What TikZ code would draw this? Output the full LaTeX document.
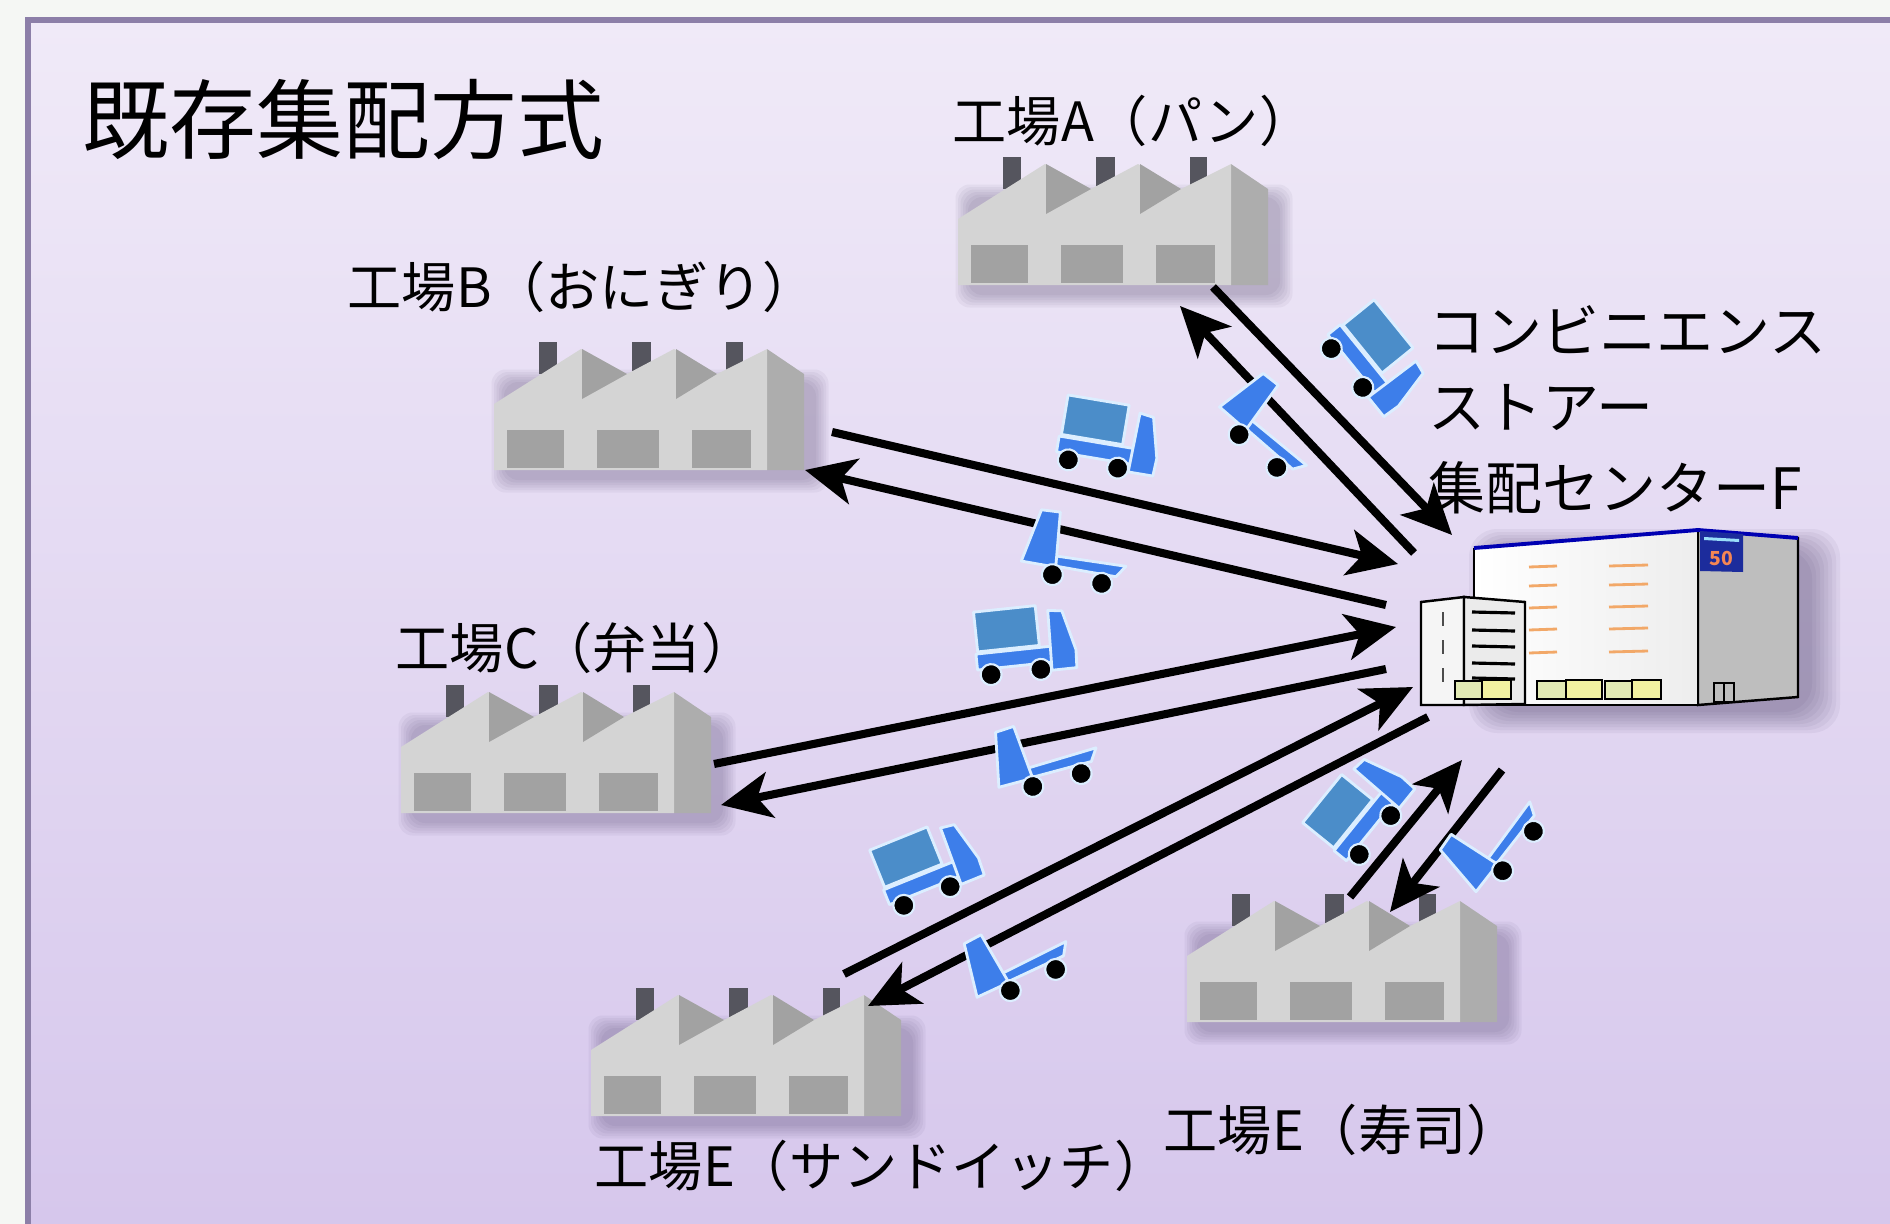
\documentclass[tikz,border=0pt]{standalone}
\usepackage{fontspec}
\setmainfont{Noto Sans CJK JP}
\usetikzlibrary{arrows.meta}

\definecolor{pagebg}{HTML}{F5F7F4}
\definecolor{frametop}{HTML}{F0EAF8}
\definecolor{framebot}{HTML}{D6C7EC}
\definecolor{frameline}{HTML}{8C7FA8}
\definecolor{factlight}{HTML}{D4D4D4}
\definecolor{factdark}{HTML}{A2A2A2}
\definecolor{factside}{HTML}{ADADAD}
\definecolor{chimney}{HTML}{55555E}
\definecolor{shadowc}{HTML}{3A2C58}
\definecolor{truckblue}{HTML}{3D7EEA}
\definecolor{cargoblue}{HTML}{4B8DC9}
\definecolor{glow}{HTML}{DCEEFF}
\definecolor{signblue}{HTML}{1C2C9C}
\definecolor{winorange}{HTML}{F2A868}
\definecolor{dockyellow}{HTML}{F2F2A0}
\definecolor{dockgreen}{HTML}{E2EAB4}
\definecolor{sidegray}{HTML}{BEBEBE}

\tikzset{
  flowarrow/.style={line width=2.3pt, -{Stealth[length=5mm,width=4.6mm,inset=1.3mm]}},
  plabel/.style={anchor=west, inner sep=0pt, text height=0.88em, text depth=0.12em,
                 font=\fontsize{15.4pt}{18pt}\selectfont},
  cvslabel/.style={plabel, font=\fontsize{16.2pt}{19pt}\selectfont},
  truckpart/.style={draw=glow, line width=0.8pt, line join=round},
  wheel/.style={draw=glow, line width=0.6pt, fill=black},
  % sawtooth factory, origin at the top-left corner
  factory/.pic={
    \foreach \k in {0,...,5}
      \fill[shadowc, opacity=0.05, rounded corners=4pt]
        ({10-\k*2.5},{40-\k*2.5}) rectangle ({322+\k*2.5},{138+\k*2.5});
    \fill[chimney] (45,0) rectangle (63,32);
    \fill[chimney] (138,0) rectangle (157,30);
    \fill[chimney] (232,0) rectangle (249,30);
    \fill[factside] (273,7) -- (310,32) -- (310,128) -- (273,128) -- cycle;
    \fill[factlight] (0,128) -- (0,62) -- (87,7) -- (133,32) -- (180,7) -- (223,32)
                     -- (273,7) -- (273,128) -- cycle;
    \fill[factdark] (88,7) -- (88,57) -- (133,32) -- cycle;
    \fill[factdark] (182,7) -- (182,57) -- (223,32) -- cycle;
    \fill[factdark] (13,88) rectangle (70,126);
    \fill[factdark] (103,88) rectangle (165,126);
    \fill[factdark] (198,88) rectangle (257,126);
  },
  % truck with cargo, facing right, origin between the wheels
  loaded/.pic={
    \filldraw[truckpart, fill=truckblue] (-38,-6) rectangle (38,-22);
    \filldraw[truckpart, fill=cargoblue] (-36,-24) rectangle (26,-64);
    \filldraw[truckpart, fill=truckblue] (36,2) -- (38,-58) -- (52,-56) -- (62,-16) -- (61,2) -- cycle;
    \filldraw[wheel] (-25,0) circle (10.5) (25,0) circle (10.5);
  },
  % empty flatbed truck, facing left, origin between the wheels
  empty/.pic={
    \filldraw[truckpart, fill=truckblue] (-26,-9) -- (38,-9) -- (46,-21) -- (-26,-19) -- cycle;
    \filldraw[truckpart, fill=truckblue] (-58,-8) -- (-47,-62) -- (-28,-63) -- (-23,-8) -- cycle;
    \filldraw[wheel] (-25,0) circle (10.5) (25,0) circle (10.5);
  },
}

\begin{document}
\begin{tikzpicture}[x=0.01cm, y=-0.01cm]
\useasboundingbox (0,0) rectangle (1890,1224);
\fill[pagebg] (0,0) rectangle (1890,1224);

% panel
\shade[top color=frametop, bottom color=framebot] (28,20) rectangle (1890,1224);
\draw[frameline, line width=1.8pt] (28,1224) -- (28,20) -- (1890,20);

% distribution centre F
\foreach \k in {0,...,7}
  \fill[shadowc, opacity=0.055, rounded corners=8pt]
    ({1490-\k*3},{550-\k*3}) rectangle ({1812+\k*4},{712+\k*3});
\filldraw[fill=sidegray, draw=black, line width=0.7pt]
  (1698,530) -- (1798,538) -- (1798,697) -- (1698,705) -- cycle;
\shade[left color=white, right color=gray!14]
  (1474,548) -- (1698,530) -- (1698,705) -- (1474,705) -- cycle;
\draw[black, line width=0.7pt] (1474,548) -- (1474,705) -- (1698,705) -- (1698,530);
\draw[blue!70!black, line width=1.1pt] (1474,548) -- (1698,530) -- (1798,538);
\fill[signblue] (1700,531) -- (1743,534) -- (1743,572) -- (1700,571) -- cycle;
\fill[cyan!40] (1704,537) -- (1739,539) -- (1739,542) -- (1704,540) -- cycle;
\node[inner sep=0pt, text=winorange!80!red, font=\fontsize{5.5pt}{5.5pt}\selectfont\bfseries] (sign) at (1721,558) {50};
\foreach \y in {567,586,608,630,653} {
  \draw[winorange, line width=0.8pt] (1529,\y) -- (1557,{\y-1});
  \draw[winorange, line width=0.8pt] (1609,{\y-1}) -- (1648,{\y-2});
}
\draw[black, line width=0.6pt] (1714,683) rectangle (1734,702) (1724,683) -- (1724,702);
% office wing
\filldraw[fill=white!96!black, draw=black, line width=0.7pt]
  (1421,602) -- (1464,597) -- (1464,705) -- (1421,705) -- cycle;
\filldraw[fill=white!92!black, draw=black, line width=0.7pt]
  (1464,597) -- (1525,602) -- (1525,704) -- (1464,705) -- cycle;
\draw[gray!60!black, line width=0.8pt, dash pattern=on 4pt off 4pt] (1443,612) -- (1443,692);
\foreach \y in {612,630,646,663,678}
  \draw[black, line width=0.9pt] (1472,\y) -- (1515,{\y+1});
% loading docks
\foreach \a/\b/\c in {1455/1482/1511, 1537/1566/1602, 1605/1632/1661} {
  \filldraw[fill=dockgreen, draw=black, line width=0.6pt] (\a,681) rectangle (\b,699);
  \filldraw[fill=dockyellow, draw=black, line width=0.6pt] (\b,680) rectangle (\c,699);
}

% factories
\pic at (958,157) {factory};
\pic at (494,342) {factory};
\pic at (401,685) {factory};
\pic at (591,988) {factory};
\pic at (1187,894) {factory};

% labels
\node[anchor=west, inner sep=0pt, text height=0.88em, text depth=0.12em,
      font=\fontsize{24.7pt}{28pt}\selectfont] (title) at (82,139) {既存集配方式};
\node[plabel] (labA) at (952,128) {工場A（パン）};
\node[plabel] (labB) at (347,294) {工場B（おにぎり）};
\node[plabel] (labC) at (395,655) {工場C（弁当）};
\node[plabel] (labD) at (594,1173) {工場E（サンドイッチ）};
\node[plabel] (labE) at (1163,1137) {工場E（寿司）};
\node[cvslabel] (cvs1) at (1428,339) {コンビニエンス};
\node[cvslabel] (cvs2) at (1428,415) {ストアー};
\node[cvslabel] (cvs3) at (1428,496) {集配センターF};

% route end points
\coordinate (A1s) at (1213,287); \coordinate (A1t) at (1452,535);
\coordinate (A2s) at (1414,553); \coordinate (A2t) at (1180,306);
\coordinate (B1s) at (832,432);  \coordinate (B1t) at (1398,564);
\coordinate (B2s) at (1386,605); \coordinate (B2t) at (805,470);
\coordinate (C1s) at (714,764);  \coordinate (C1t) at (1396,627);
\coordinate (C2s) at (1386,669); \coordinate (C2t) at (721,805);
\coordinate (D1s) at (844,974);  \coordinate (D1t) at (1413,687);
\coordinate (D2s) at (1428,717); \coordinate (D2t) at (868,1006);
\coordinate (E1s) at (1350,897); \coordinate (E1t) at (1462,760);
\coordinate (E2s) at (1502,770); \coordinate (E2t) at (1390,912);

\foreach \p in {A1,A2,B1,B2,C1,C2,D1,D2,E1,E2}
  \draw[flowarrow] (\p s) -- (\p t);

% trucks
\pic[rotate=-51] at (1347,368) {loaded};
\pic[rotate=-9.5] at (1093,464) {loaded};
\pic[rotate=6] at (1016,672) {loaded};
\pic[rotate=22] at (927,896) {loaded};
\pic[rotate=51] at (1375,835) {loaded};
\pic[rotate=-41] at (1258,451) {empty};
\pic[rotate=-10] at (1077,579) {empty};
\pic[rotate=15] at (1057,780) {empty};
\pic[rotate=25] at (1033,980) {empty};
\pic[rotate=52] at (1518,851) {empty};
\end{tikzpicture}
\end{document}
